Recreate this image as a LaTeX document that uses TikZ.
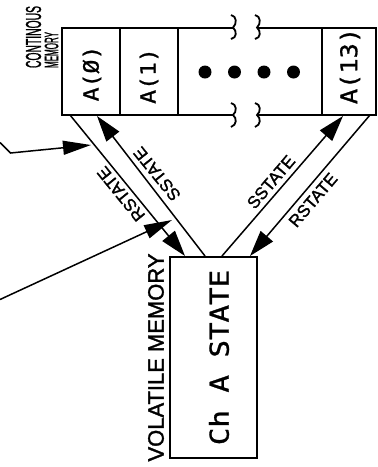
\documentclass[tikz,border=0pt]{standalone}
\usepackage{fontspec}
\setmainfont[FakeBold=1.6]{Liberation Sans}
\newfontfamily\monof[FakeBold=1]{DejaVu Sans Mono}
\usetikzlibrary{arrows.meta}
\begin{document}
\begin{tikzpicture}[x=1pt,y=-1pt,
  boxline/.style={line width=2.6pt},
  breakline/.style={line width=1.8pt},
  conn/.style={line width=1.5pt},
  bigtip/.style={-{Triangle[length=26pt,width=16pt]}},
  ptip/.style={-{Triangle[length=28pt,width=14pt]}},
  celltext/.style={rotate=90, inner sep=0pt},
  lbl/.style={font=\fontsize{17}{20}\selectfont, inner sep=0pt},
  bigdot/.style={circle, fill, inner sep=0pt, minimum size=13pt},
]
\useasboundingbox (0,0) rectangle (378,467);

% continuous memory box
\draw[boxline] (233,28) -- (62,28) -- (62,115) -- (233,115);
\draw[boxline] (257,28) -- (376,28) -- (376,115) -- (257,115);
\draw[boxline] (120,28) -- (120,115) (178,28) -- (178,115) (322,28) -- (322,115);
% break marks
\draw[breakline] (231,15) .. controls (237,16) and (237,24) .. (233,27.5) .. controls (237,31) and (237,38) .. (231,39);
\draw[breakline] (255,15) .. controls (261,16) and (261,24) .. (257,27.5) .. controls (261,31) and (261,38) .. (255,39);
\draw[breakline] (231,103) .. controls (237,104) and (237,112) .. (233,115) .. controls (237,118) and (237,125) .. (231,127);
\draw[breakline] (255,103) .. controls (261,104) and (261,112) .. (257,115) .. controls (261,118) and (261,125) .. (255,127);

\node[celltext, font=\monof\fontsize{21}{24}\selectfont] (a0) at (92,73.5) {\scalebox{1.1}[1]{A(Ø)}};
\node[celltext, font=\monof\fontsize{21}{24}\selectfont] (a1) at (149,76) {\scalebox{1.1}[1]{A(1)}};
\node[celltext, font=\monof\fontsize{23}{26}\selectfont] (a13) at (350,66) {\scalebox{1.1}[1]{A(13)}};
\node[bigdot] (d1) at (205,72) {};
\node[bigdot] (d2) at (234.5,72) {};
\node[bigdot] (d3) at (264,72) {};
\node[bigdot] (d4) at (293.5,72) {};

\node[rotate=90, inner sep=0pt] (cont) at (33.5,37) {\resizebox{62pt}{15pt}{CONTINOUS}};
\node[rotate=90, inner sep=0pt] (mem) at (51.5,50) {\resizebox{36pt}{13.5pt}{MEMORY}};

% volatile memory box
\node[draw, boxline, minimum width=87pt, minimum height=201pt, inner sep=0pt] (vm) at (213.5,357.5) {};
\node[celltext, font=\monof\fontsize{26}{30}\selectfont] (chs) at (219,357.5) {\scalebox{1.12}[1]{Ch A STATE}};
\node[rotate=90, inner sep=0pt] (vol) at (156,357.5) {\resizebox{208pt}{15.5pt}{VOLATILE MEMORY}};

% connectors
\coordinate (t1) at (70,115);  \coordinate (b1) at (185,256);
\coordinate (t2) at (97,116);  \coordinate (b2) at (205,256);
\coordinate (b3) at (222,256); \coordinate (t3) at (343,116);
\coordinate (t4) at (370,115); \coordinate (b4) at (250,256);
\draw[conn, bigtip] (t1) -- (b1);
\draw[conn, bigtip] (b2) -- (t2);
\draw[conn, bigtip] (b3) -- (t3);
\draw[conn, bigtip] (t4) -- (b4);

\node[lbl, rotate=129] (rs1) at (121,194) {RSTATE};
\node[lbl, rotate=129] (ss1) at (157,174) {SSTATE};
\node[lbl, rotate=49.6] (ss2) at (271,182) {SSTATE};
\node[lbl, rotate=49.6] (rs2) at (313,200) {RSTATE};

% pointers
\coordinate (p1s) at (0,142.5); \coordinate (p1k) at (10.5,153); \coordinate (p1e) at (91,145);
\draw[conn, ptip] (p1s) -- (p1k) -- (p1e);
\coordinate (p2s) at (0,299.5); \coordinate (p2e) at (172,220);
\draw[conn, ptip] (p2s) -- (p2e);
\end{tikzpicture}
\end{document}
